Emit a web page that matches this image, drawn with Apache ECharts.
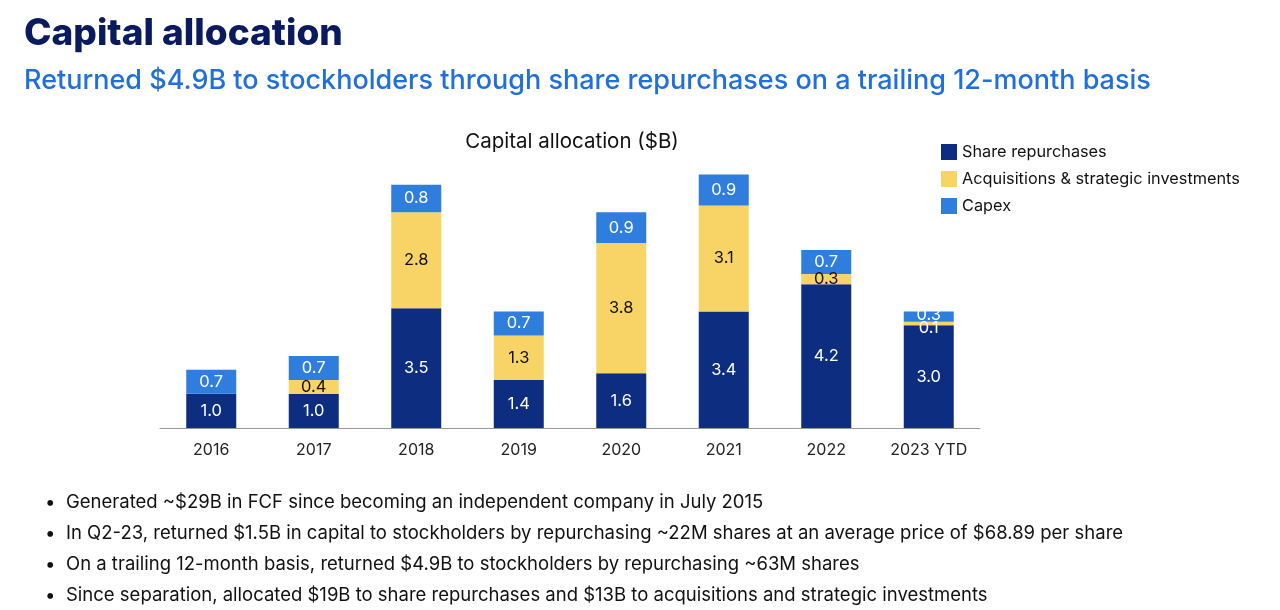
<!DOCTYPE html>
<html>
<head>
<meta charset="utf-8">
<script src="https://cdn.jsdelivr.net/npm/echarts@6/dist/echarts.min.js"></script>
<style>
html,body{margin:0;padding:0;background:#fff;}
#chart{width:1280px;height:610px;}
</style>
</head>
<body>
<div id="chart"></div>
<script>
const categories = ['2016','2017','2018','2019','2020','2021','2022','2023 YTD'];
const shareRepurchases = [1.0, 1.0, 3.5, 1.4, 1.6, 3.4, 4.2, 3.0];
const acquisitions = [0, 0.4, 2.8, 1.3, 3.8, 3.1, 0.3, 0.1];
const capex = [0.7, 0.7, 0.8, 0.7, 0.9, 0.9, 0.7, 0.3];
const seriesNames = ['Share repurchases', 'Acquisitions & strategic investments', 'Capex'];
const bullets = [
  'Generated ~$29B in FCF since becoming an independent company in July 2015',
  'In Q2-23, returned $1.5B in capital to stockholders by repurchasing ~22M shares at an average price of $68.89 per share',
  'On a trailing 12-month basis, returned $4.9B to stockholders by repurchasing ~63M shares',
  'Since separation, allocated $19B to share repurchases and $13B to acquisitions and strategic investments'
];

const FONT = 'Inter, "Noto Sans", sans-serif';
const NAVY = '#0c2d80', YELLOW = '#f8d466', BLUE = '#2f7ddc';

function fmt(v){ return v.toFixed(1); }

const acqData = acquisitions.map((v, i) => {
  if (v === 0) return {value: v, label: {show: false}};
  if (i === 7) return {value: v, label: {color: '#fff', offset: [0, 5]}};
  return v;
});
const capexData = capex.map((v, i) => {
  if (i === 7) return {value: v, label: {offset: [0, -2]}};
  return v;
});

const chart = echarts.init(document.getElementById('chart'));
const graphics = [];
bullets.forEach((b, i) => {
  const y = 493 + i * 31;
  graphics.push({type: 'text', left: 45, top: y, style: {text: '•', font: '18.5px ' + FONT, fill: '#111'}});
  graphics.push({type: 'text', left: 66, top: y, style: {text: b, font: '18.5px ' + FONT, fill: '#111'}});
});

chart.setOption({
  backgroundColor: '#fff',
  animation: false,
  title: [
    {text: 'Capital allocation', left: 19, top: 10, textStyle: {fontFamily: FONT, fontSize: 37, fontWeight: 800, color: '#0a1a5e'}},
    {text: 'Returned $4.9B to stockholders through share repurchases on a trailing 12-month basis', left: 19, top: 62, textStyle: {fontFamily: FONT, fontSize: 27, fontWeight: 500, color: '#1f6fdd'}},
    {text: 'Capital allocation ($B)', left: 567, textAlign: 'center', top: 126, textStyle: {fontFamily: FONT, fontSize: 20.5, fontWeight: 'normal', color: '#111'}}
  ],
  legend: {
    orient: 'vertical', left: 936, top: 139, itemWidth: 16, itemHeight: 16, itemGap: 11,
    icon: 'rect',
    textStyle: {fontFamily: FONT, fontSize: 16.3, color: '#111'},
    data: seriesNames
  },
  grid: {left: 160, right: 300, top: 154, bottom: 182},
  xAxis: {
    type: 'category', data: categories,
    axisLine: {lineStyle: {color: '#999', width: 1}},
    axisTick: {show: false},
    axisLabel: {fontFamily: FONT, fontSize: 16, color: '#222', margin: 14}
  },
  yAxis: {type: 'value', min: 0, max: 8, show: false, splitLine: {show: false}},
  graphic: graphics,
  series: [
    {name: seriesNames[0], type: 'bar', stack: 't', barWidth: 50, data: shareRepurchases,
     itemStyle: {color: NAVY},
     label: {show: true, position: 'inside', color: '#fff', fontFamily: FONT, fontSize: 16.5, formatter: p => fmt(p.value)}},
    {name: seriesNames[1], type: 'bar', stack: 't', barWidth: 50, data: acqData,
     itemStyle: {color: YELLOW},
     label: {show: true, position: 'inside', color: '#111', fontFamily: FONT, fontSize: 16.5, formatter: p => fmt(p.value)}},
    {name: seriesNames[2], type: 'bar', stack: 't', barWidth: 50, data: capexData,
     itemStyle: {color: BLUE},
     label: {show: true, position: 'inside', color: '#fff', fontFamily: FONT, fontSize: 16.5, formatter: p => fmt(p.value)}}
  ]
});
</script>
</body>
</html>
